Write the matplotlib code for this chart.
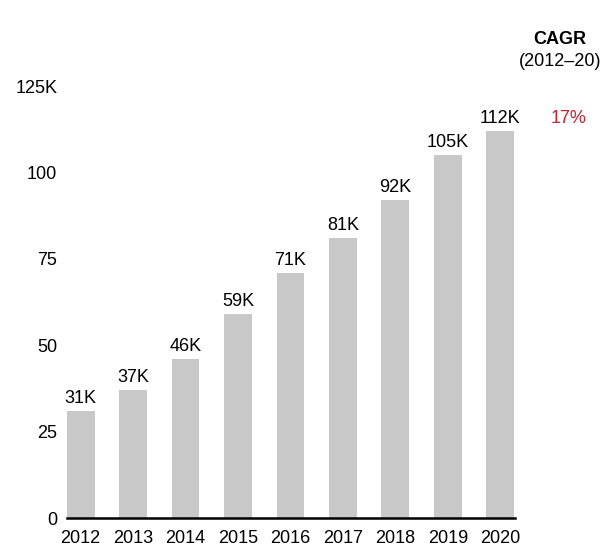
import matplotlib.pyplot as plt

plt.rcParams['font.family'] = ['Liberation Sans', 'DejaVu Sans']

years = ['2012', '2013', '2014', '2015', '2016', '2017', '2018', '2019', '2020']
values = [31, 37, 46, 59, 71, 81, 92, 105, 112]
bar_labels = ['31K', '37K', '46K', '59K', '71K', '81K', '92K', '105K', '112K']
yticks = [0, 25, 50, 75, 100, 125]
ytick_labels = ['0', '25', '50', '75', '100', '125K']
cagr = '17%'

fig = plt.figure(figsize=(6.12, 5.48), dpi=100)
ax = fig.add_axes([0.1095, 0.0547, 0.732, 0.7883])

x = range(len(years))
ax.bar(x, values, width=0.53, color='#c8c8c8', zorder=2)
for xi, v, lab in zip(x, values, bar_labels):
    ax.text(xi, v + 1.2, lab, ha='center', va='bottom', fontsize=13)

ax.set_xlim(-0.26, 8.28)
ax.set_ylim(0, 125)
ax.set_xticks(list(x))
ax.set_xticklabels(years, fontsize=13)
ax.set_yticks(yticks)
ax.set_yticklabels(ytick_labels, fontsize=13)
ax.tick_params(axis='y', length=0, pad=7)
ax.tick_params(axis='x', length=0, pad=8.5)

for s in ['top', 'right', 'left']:
    ax.spines[s].set_visible(False)
ax.spines['bottom'].set_linewidth(1.8)
ax.spines['bottom'].set_zorder(3)

fig.text(0.915, 0.928, 'CAGR', ha='center', va='center', fontsize=13, fontweight='bold')
fig.text(0.915, 0.888, '(2012\u201320)', ha='center', va='center', fontsize=13)
ax.text(9.3, 112 + 1.2, cagr, ha='center', va='bottom', fontsize=13, color='#d0202e')

fig.savefig('out.png', dpi=100)
